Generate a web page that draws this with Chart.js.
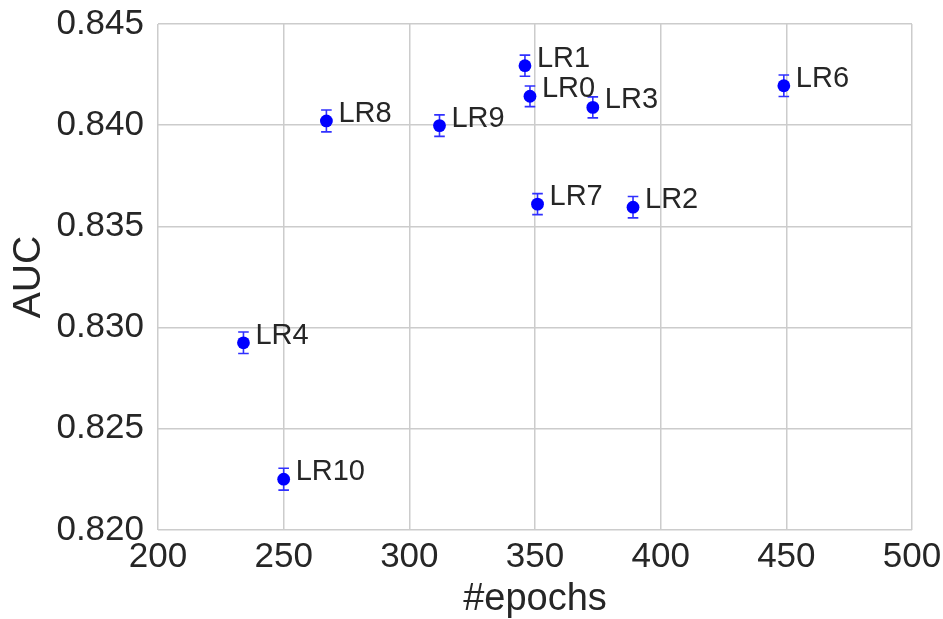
<!DOCTYPE html>
<html>
<head>
<meta charset="utf-8">
<script src="https://cdn.jsdelivr.net/npm/chart.js@4/dist/chart.umd.min.js"></script>
<style>
  html, body { margin: 0; padding: 0; background: #fff; }
  canvas { display: block; }
</style>
</head>
<body>
<canvas id="chart" width="943" height="619"></canvas>
<script>
const runNames = ["LR0", "LR1", "LR2", "LR3", "LR4", "LR6", "LR7", "LR8", "LR9", "LR10"];
const epochs = [348, 346, 389, 373, 234, 449, 351, 267, 312, 250];
const auc = [0.84143, 0.84294, 0.83595, 0.84088, 0.82925, 0.84195, 0.8361, 0.84021, 0.83998, 0.82251];
const aucErr = [0.00051, 0.00052, 0.00053, 0.00052, 0.00053, 0.00053, 0.00052, 0.00054, 0.00053, 0.00054];

const xTicks = [200, 250, 300, 350, 400, 450, 500];
const yTicks = [0.820, 0.825, 0.830, 0.835, 0.840, 0.845];

const TEXT = "#262626";
const GRID = "#cccccc";
const MARK = "#0000ff";
const FONT = "'Liberation Sans', Arial, sans-serif";

// vertical error bars with caps, drawn under the markers
const errorBars = {
  id: "errorBars",
  beforeDatasetsDraw(chart) {
    const { ctx, scales: { x, y } } = chart;
    ctx.save();
    ctx.strokeStyle = "#3030ff";
    ctx.lineWidth = 1.6;
    epochs.forEach((e, i) => {
      const px = x.getPixelForValue(e);
      const top = y.getPixelForValue(auc[i] + aucErr[i]);
      const bot = y.getPixelForValue(auc[i] - aucErr[i]);
      ctx.beginPath();
      ctx.moveTo(px, top);
      ctx.lineTo(px, bot);
      ctx.moveTo(px - 5.3, top);
      ctx.lineTo(px + 5.3, top);
      ctx.moveTo(px - 5.3, bot);
      ctx.lineTo(px + 5.3, bot);
      ctx.stroke();
    });
    ctx.restore();
  },
};

// run name next to each point
const pointNames = {
  id: "pointNames",
  afterDatasetsDraw(chart) {
    const { ctx, scales: { x, y } } = chart;
    ctx.save();
    ctx.fillStyle = TEXT;
    ctx.font = `29px ${FONT}`;
    ctx.textAlign = "left";
    ctx.textBaseline = "alphabetic";
    runNames.forEach((name, i) => {
      const px = x.getPixelForValue(epochs[i]);
      const py = y.getPixelForValue(auc[i]);
      ctx.fillText(name, px + 12, py + 1);
    });
    ctx.restore();
  },
};

new Chart(document.getElementById("chart"), {
  type: "scatter",
  data: {
    datasets: [
      {
        data: epochs.map((e, i) => ({ x: e, y: auc[i] })),
        backgroundColor: MARK,
        borderColor: MARK,
        pointRadius: 6.4,
        pointHoverRadius: 6.4,
        borderWidth: 0,
      },
    ],
  },
  options: {
    responsive: false,
    animation: false,
    layout: { padding: { top: 24, right: 31, left: 0, bottom: 0 } },
    scales: {
      x: {
        type: "linear",
        min: 200,
        max: 500,
        afterBuildTicks: (axis) => { axis.ticks = xTicks.map((v) => ({ value: v })); },
        afterFit: (axis) => {
          axis.height = 89;
          axis.paddingLeft = 0;
          axis.paddingRight = 0;
        },
        grid: { color: GRID, lineWidth: 1.5, drawTicks: false },
        border: { display: false },
        ticks: {
          color: TEXT,
          font: { size: 35, family: FONT },
          padding: 6,
          maxRotation: 0,
        },
        title: {
          display: true,
          text: "#epochs",
          color: TEXT,
          font: { size: 38, family: FONT, lineHeight: 1 },
          padding: { top: 0, bottom: 0 },
        },
      },
      y: {
        type: "linear",
        min: 0.82,
        max: 0.845,
        afterBuildTicks: (axis) => { axis.ticks = yTicks.map((v) => ({ value: v })); },
        afterFit: (axis) => {
          axis.width = 158;
          axis.paddingTop = 0;
          axis.paddingBottom = 0;
        },
        grid: { color: GRID, lineWidth: 1.5, drawTicks: false },
        border: { display: false },
        ticks: {
          color: TEXT,
          font: { size: 35, family: FONT },
          padding: 14,
          callback: (v) => v.toFixed(3),
        },
        title: {
          display: true,
          text: "AUC",
          color: TEXT,
          font: { size: 39, family: FONT, lineHeight: 1 },
          padding: { top: 10, bottom: 0 },
        },
      },
    },
    plugins: {
      legend: { display: false },
      tooltip: { enabled: false },
    },
  },
  plugins: [errorBars, pointNames],
});
</script>
</body>
</html>
